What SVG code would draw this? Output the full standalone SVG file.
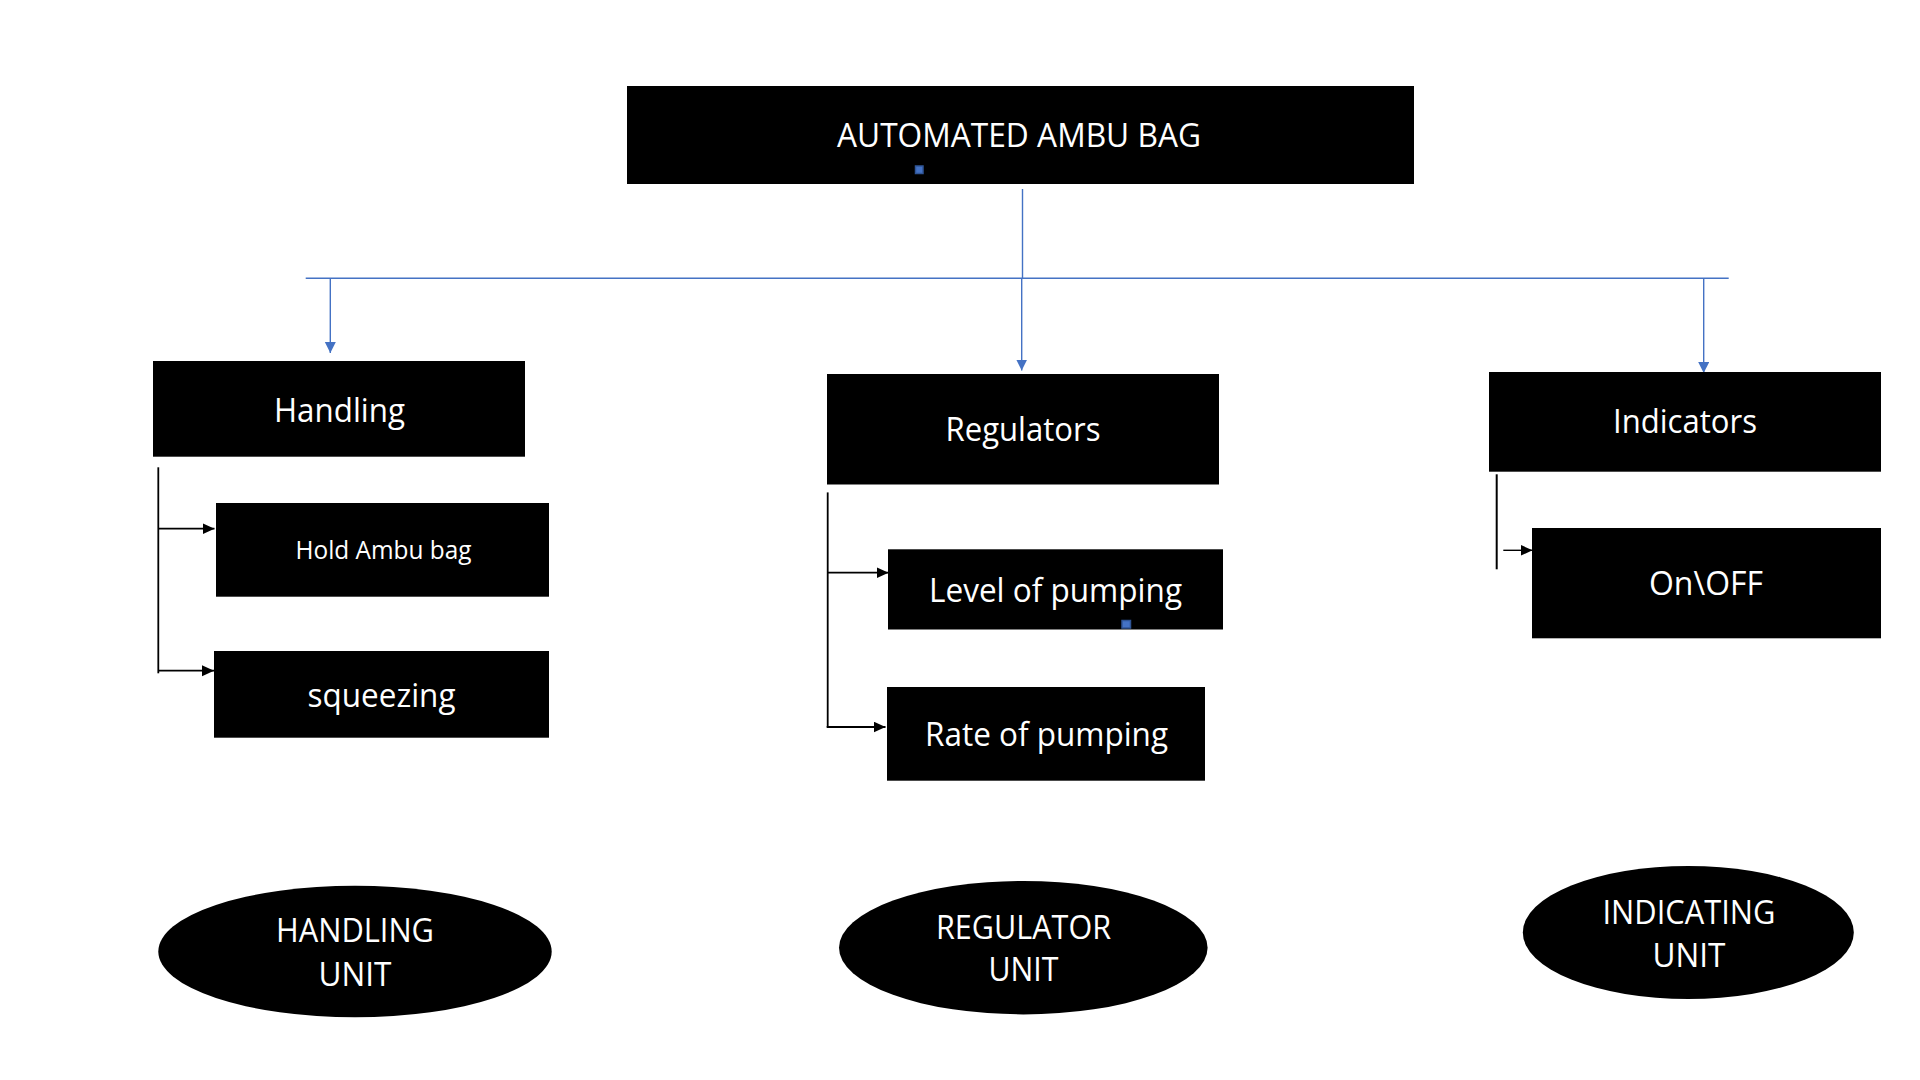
<svg xmlns="http://www.w3.org/2000/svg" width="1920" height="1080" viewBox="0 0 1920 1080">
<defs>
<style>
.box{fill:#000}
.t{font-family:"Open Sans","Noto Sans","Liberation Sans",sans-serif;font-size:32px;fill:#fff}
.ts{font-size:25px}
.blue{stroke:#4472C4;stroke-width:1.4;fill:none}
.blk{stroke:#000;stroke-width:1.8;fill:none}
.dot{fill:#4472C4;stroke:#2F5597;stroke-width:1.5}
</style>
<marker id="ab" markerUnits="userSpaceOnUse" markerWidth="12" markerHeight="12" refX="11" refY="5.5" orient="auto">
<path d="M0,0 L11,5.5 L0,11 z" fill="#4472C4"/>
</marker>
<marker id="ak" markerUnits="userSpaceOnUse" markerWidth="13" markerHeight="12" refX="12" refY="5.5" orient="auto">
<path d="M0,0 L12,5.5 L0,11 z" fill="#000"/>
</marker>
</defs>
<rect width="1920" height="1080" fill="#fff"/>

<g id="connectors">
<line class="blue" x1="1022.5" y1="189" x2="1022.5" y2="278.3"/>
<line class="blue" x1="305.7" y1="278.3" x2="1728.7" y2="278.3"/>
<line class="blue" x1="330.3" y1="278.3" x2="330.3" y2="353" marker-end="url(#ab)"/>
<line class="blue" x1="1021.7" y1="278.3" x2="1021.7" y2="370.5" marker-end="url(#ab)"/>
<line class="blue" x1="1703.7" y1="278.3" x2="1703.7" y2="373" marker-end="url(#ab)"/>

<line class="blk" x1="158.3" y1="467.3" x2="158.3" y2="673.3"/>
<line class="blk" x1="158.3" y1="528.7" x2="214.5" y2="528.7" marker-end="url(#ak)"/>
<line class="blk" x1="158.3" y1="670.7" x2="214" y2="670.7" marker-end="url(#ak)"/>

<line class="blk" x1="827.7" y1="492.4" x2="827.7" y2="727.3"/>
<line class="blk" x1="827.7" y1="572.7" x2="888.5" y2="572.7" marker-end="url(#ak)"/>
<line class="blk" x1="826.7" y1="727" x2="885.5" y2="727" marker-end="url(#ak)"/>

<line class="blk" x1="1496.7" y1="474.3" x2="1496.7" y2="569.3" style="stroke-width:2"/>
<line class="blk" x1="1503.3" y1="550.3" x2="1532.5" y2="550.3" style="stroke-width:1.4" marker-end="url(#ak)"/>
</g>

<g id="node-automated-ambu-bag">
<rect class="box" x="627" y="86" width="787" height="98"/>
<text class="t" x="837" y="146.7" textLength="364" lengthAdjust="spacingAndGlyphs">AUTOMATED AMBU BAG</text>
<rect class="dot" x="915.5" y="166" width="7.5" height="7.5"/>
</g>

<g id="node-handling">
<rect class="box" x="153" y="361" width="372" height="95.7"/>
<text class="t" x="274" y="422.3" textLength="131" lengthAdjust="spacingAndGlyphs">Handling</text>
</g>

<g id="node-hold-ambu-bag">
<rect class="box" x="216" y="503" width="333" height="93.7"/>
<text class="t ts" x="295.5" y="559" textLength="176" lengthAdjust="spacingAndGlyphs">Hold Ambu bag</text>
</g>

<g id="node-squeezing">
<rect class="box" x="214" y="651" width="335" height="86.7"/>
<text class="t" x="307.5" y="706.7" textLength="148" lengthAdjust="spacingAndGlyphs">squeezing</text>
</g>

<g id="node-regulators">
<rect class="box" x="827" y="374" width="392" height="110.5"/>
<text class="t" x="945.5" y="440.8" textLength="155" lengthAdjust="spacingAndGlyphs">Regulators</text>
</g>

<g id="node-level-of-pumping">
<rect class="box" x="888" y="549.3" width="335" height="80.2"/>
<text class="t" x="929" y="601.6" textLength="253" lengthAdjust="spacingAndGlyphs">Level of pumping</text>
<rect class="dot" x="1122" y="620.5" width="8.5" height="7.5"/>
</g>

<g id="node-rate-of-pumping">
<rect class="box" x="887" y="687" width="318" height="93.7"/>
<text class="t" x="925" y="745.5" textLength="243" lengthAdjust="spacingAndGlyphs">Rate of pumping</text>
</g>

<g id="node-indicators">
<rect class="box" x="1489" y="372" width="392" height="99.7"/>
<text class="t" x="1613" y="433.3" textLength="144" lengthAdjust="spacingAndGlyphs">Indicators</text>
</g>

<g id="node-on-off">
<rect class="box" x="1532" y="528" width="349" height="110.3"/>
<text class="t" x="1649" y="595" textLength="114" lengthAdjust="spacingAndGlyphs">On\OFF</text>
</g>

<g id="node-handling-unit">
<ellipse class="box" cx="355" cy="951.5" rx="196.7" ry="65.8"/>
<text class="t" x="276" y="942.3" textLength="158" lengthAdjust="spacingAndGlyphs">HANDLING</text>
<text class="t" x="318.5" y="986" textLength="73" lengthAdjust="spacingAndGlyphs">UNIT</text>
</g>

<g id="node-regulator-unit">
<ellipse class="box" cx="1023.3" cy="947.7" rx="184.3" ry="66.7"/>
<text class="t" x="936" y="939.3" textLength="175" lengthAdjust="spacingAndGlyphs">REGULATOR</text>
<text class="t" x="988.5" y="981" textLength="70" lengthAdjust="spacingAndGlyphs">UNIT</text>
</g>

<g id="node-indicating-unit">
<ellipse class="box" cx="1688.3" cy="932.5" rx="165.5" ry="66.5"/>
<text class="t" x="1602.5" y="924" textLength="173" lengthAdjust="spacingAndGlyphs">INDICATING</text>
<text class="t" x="1652.5" y="966.7" textLength="73" lengthAdjust="spacingAndGlyphs">UNIT</text>
</g>
</svg>
